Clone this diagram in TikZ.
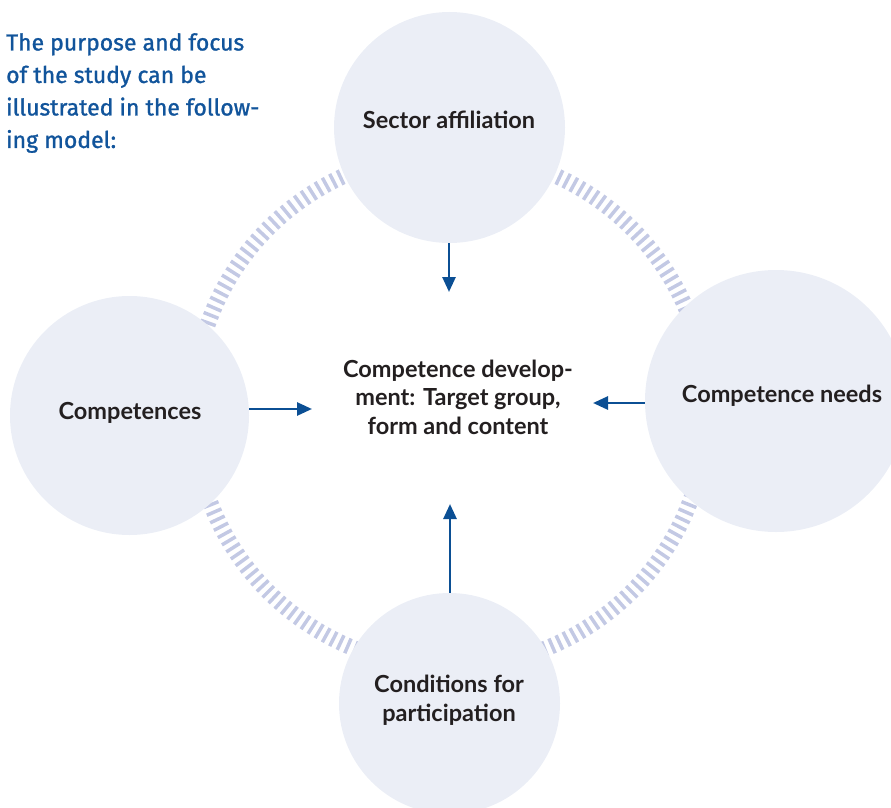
\documentclass[tikz,border=0pt]{standalone}
\usepackage{fontspec}
\usepackage{tikz}
\usetikzlibrary{arrows.meta}
\setmainfont{Lato}
\newfontfamily\headfont{Fira Sans}[FakeBold=1.2]
\definecolor{ringblue}{HTML}{C3C9E4}
\definecolor{bubblefill}{HTML}{EBEEF6}
\definecolor{flowblue}{HTML}{0B4F94}
\definecolor{headblue}{HTML}{11549B}
\definecolor{labeltext}{HTML}{231F20}
\tikzset{
  bubble/.style={
    circle,
    fill=bubblefill,
    inner sep=0pt
  },
  bubbletext/.style={
    font=\bfseries\fontsize{23.5}{28.5}\selectfont,
    text=labeltext,
    align=center,
    inner sep=0pt
  },
  headtext/.style={
    font=\headfont\fontsize{23}{32.5}\selectfont,
    text=headblue,
    align=left,
    inner sep=0pt
  },
  flow/.style={
    draw=flowblue,
    line width=2.7pt,
    -{Triangle[length=15pt,width=13pt]}
  },
  hatch/.style={
    draw=ringblue,
    line width=3.5pt
  }
}
\begin{document}
\begin{tikzpicture}[x=1pt,y=-1pt]
    \useasboundingbox (0,0) rectangle (891,808);
    % hatched ring, the bubbles sit on top of it
    \begin{scope}[shift={(450,410)}]
        \foreach \a in {0,1.8,...,358.2}
            \draw[hatch] (\a:249) -- (\a:265);
    \end{scope}
    % the four bubbles
    \node[bubble, minimum size=231pt] (sector) at (449.5,127.5) {};
    \node[bubble, minimum size=239pt] (comp) at (129.5,415.5) {};
    \node[bubble, minimum size=262pt] (needs) at (776,401) {};
    \node[bubble, minimum size=221pt] (cond) at (449.5,703.5) {};
    \node[bubbletext] (sectorlabel) at (449,120) {Sector affiliation};
    \node[bubbletext] (complabel) at (130,413) {Competences};
    \node[bubbletext] (needslabel) at (782,396) {Competence needs};
    \node[bubbletext] (condlabel) at (449,700) {Conditions for\\participation};
    % centre
    \node[bubbletext] (target) at (458,397) {Competence develop-\\ment: Target group,\\form and content};
    \node[headtext, anchor=north west] (intro) at (6,33) {The purpose and focus\\of the study can be\\illustrated in the follow-\\ing model:};
    % arrows into the centre
    \coordinate (tipN) at (449,292);
    \coordinate (tipW) at (312,409);
    \coordinate (tipE) at (593,403);
    \coordinate (tipS) at (450,504);
    \draw[flow] (tipN |- sector.south) -- (tipN);
    \draw[flow] (tipW -| comp.east) -- (tipW);
    \draw[flow] (tipE -| needs.west) -- (tipE);
    \draw[flow] (tipS |- cond.north) -- (tipS);
\end{tikzpicture}
\end{document}
